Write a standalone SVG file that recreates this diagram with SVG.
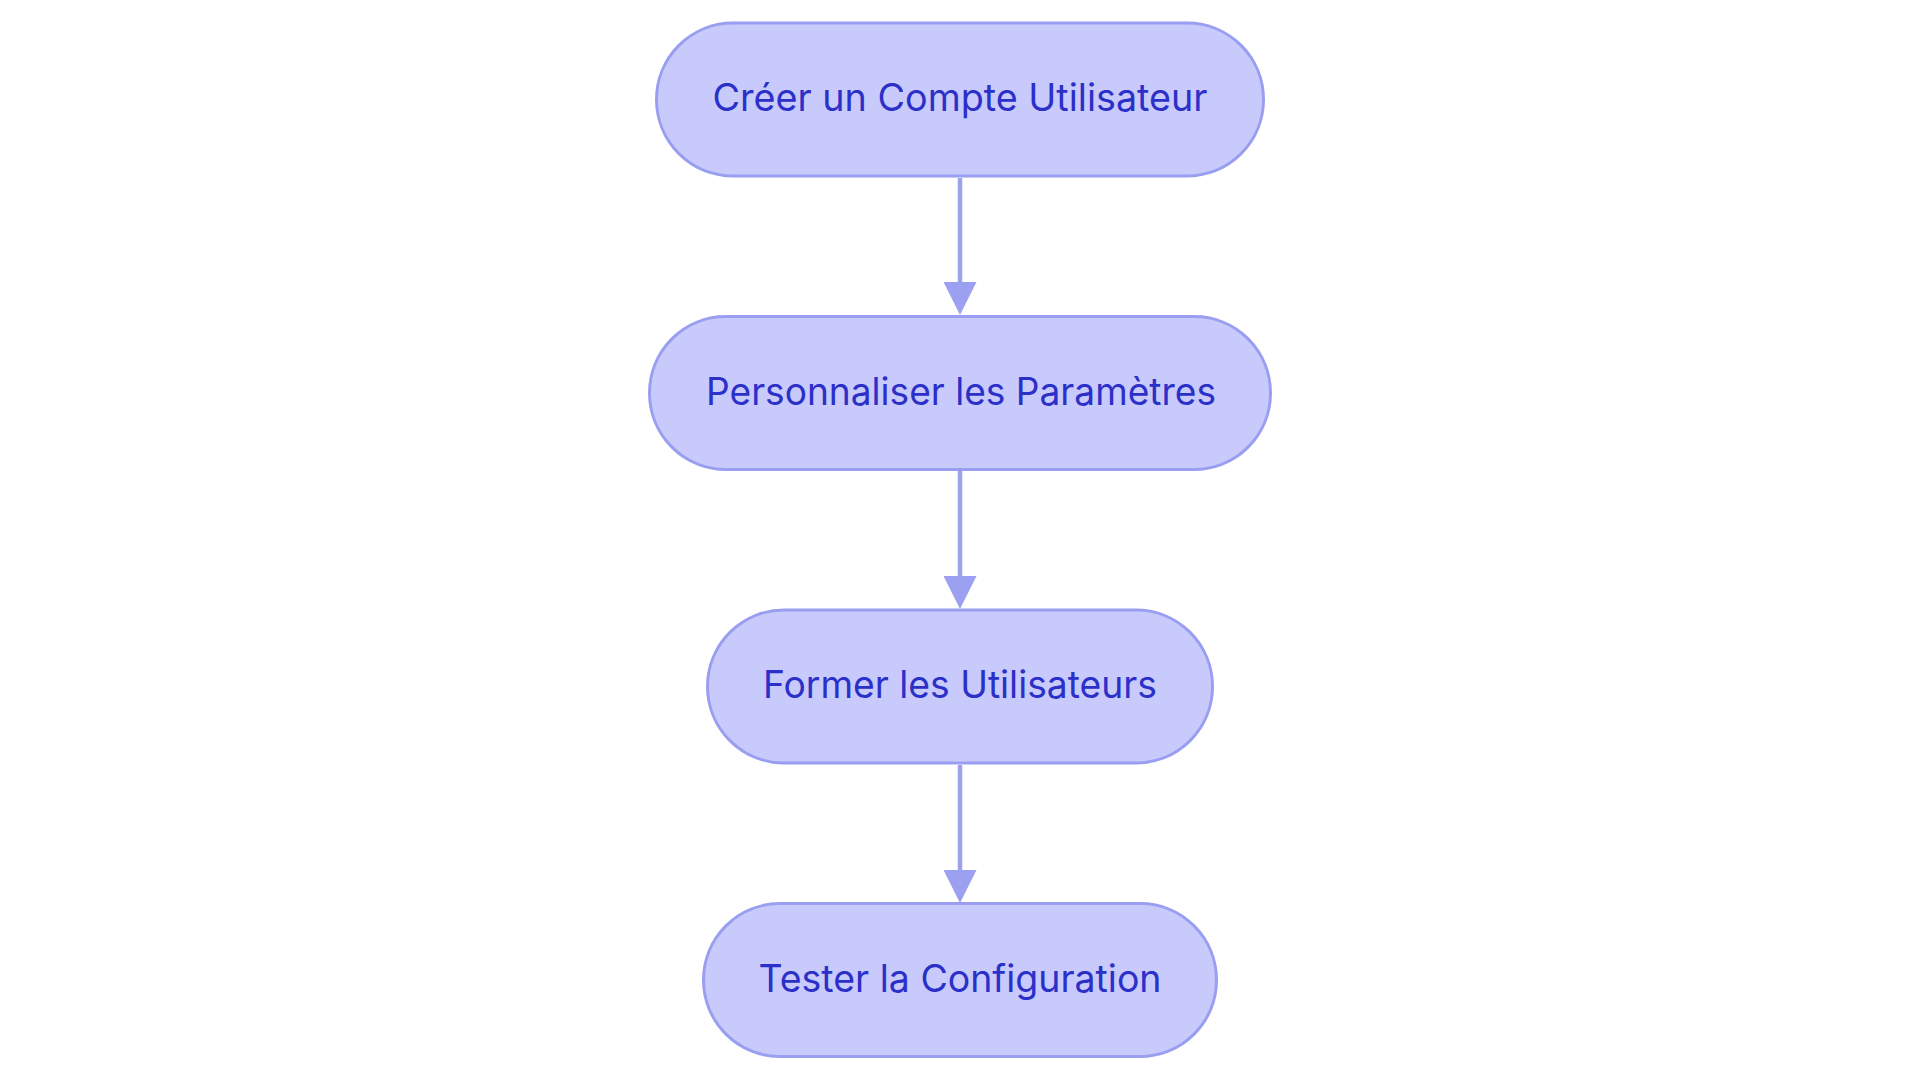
<svg xmlns="http://www.w3.org/2000/svg" width="1920" height="1083" viewBox="0 0 1920 1083">
<style>
.node rect{fill:#C9CAFC;stroke:#9A9EF0;stroke-width:3}
.node text{font-family:Inter,"Noto Sans","Liberation Sans",sans-serif;font-size:38px;fill:#2B30C9;text-anchor:middle}
.edge{stroke:#9CA0F0;stroke-width:4.5;fill:none}
</style>
<defs>
<marker id="arrow" viewBox="0 0 10 10" refX="0" refY="5" markerWidth="33" markerHeight="33" markerUnits="userSpaceOnUse" orient="auto">
<path d="M0,0 L10,5 L0,10 z" fill="#9CA0F0"/>
</marker>
</defs>
<rect width="1920" height="1083" fill="#FFFFFF"/>
<g id="connectors">
<line class="edge" x1="960" y1="178" x2="960" y2="282" marker-end="url(#arrow)"/>
<line class="edge" x1="960" y1="471" x2="960" y2="576" marker-end="url(#arrow)"/>
<line class="edge" x1="960" y1="765" x2="960" y2="870" marker-end="url(#arrow)"/>
</g>
<g id="node1" class="node">
<rect x="656.5" y="23" width="607" height="153" rx="76.5" ry="76.5"/>
<text x="960" y="111" textLength="495" lengthAdjust="spacingAndGlyphs">Créer un Compte Utilisateur</text>
</g>
<g id="node2" class="node">
<rect x="649.5" y="316.5" width="621" height="153" rx="76.5" ry="76.5"/>
<text x="961" y="404.5" textLength="510" lengthAdjust="spacingAndGlyphs">Personnaliser les Paramètres</text>
</g>
<g id="node3" class="node">
<rect x="707.5" y="610" width="505" height="153" rx="76.5" ry="76.5"/>
<text x="960" y="698" textLength="394" lengthAdjust="spacingAndGlyphs">Former les Utilisateurs</text>
</g>
<g id="node4" class="node">
<rect x="703.5" y="903.5" width="513" height="153" rx="76.5" ry="76.5"/>
<text x="960" y="991.5" textLength="403" lengthAdjust="spacingAndGlyphs">Tester la Configuration</text>
</g>
</svg>
